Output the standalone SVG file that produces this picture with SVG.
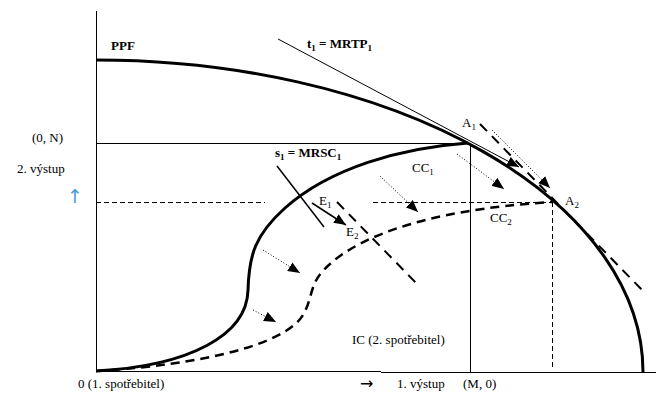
<svg xmlns="http://www.w3.org/2000/svg" width="665" height="394" viewBox="0 0 665 394">
<style>
.t{font-family:'Liberation Serif','Times New Roman',serif;font-size:13px;fill:#000}
.b{font-weight:bold}
.thin{stroke:#000;stroke-width:1;fill:none}
.thick{stroke:#000;stroke-width:3;fill:none}
.dash{stroke:#000;stroke-width:1;fill:none;stroke-dasharray:5,3}
.tdash{stroke:#000;stroke-width:2.5;fill:none;stroke-dasharray:9,6}
.dot{stroke:#000;stroke-width:1;fill:none;stroke-dasharray:1,2}
</style>
<defs>
<marker id="ah" viewBox="0 0 12 10" refX="12" refY="5" markerWidth="12" markerHeight="10" markerUnits="userSpaceOnUse" orient="auto">
<path d="M0,0 L12,5 L0,10 Z" fill="#000"/>
</marker>
</defs>
<rect width="665" height="394" fill="#fff"/>
<g id="axes">
<line class="thin" x1="96.5" y1="11" x2="96.5" y2="372"/>
<line class="thin" x1="96" y1="371.5" x2="381" y2="371.5"/>
<line class="thin" x1="381" y1="372.5" x2="656" y2="372.5"/>
</g>
<g id="ppf">
<path class="thick" d="M96,60 A547,312 0 0 1 643,372"/>
</g>
<g id="cc1">
<path class="thick" d="M96,371 C190,366 247,335 248,290 C249,255 255,235 285,208 C330,168 400,148 468,143"/>
</g>
<g id="cc2">
<path class="tdash" d="M96,371 C200,365 285,345 303,315 C312,300 310,285 322,272 C350,240 420,210 552,202"/>
</g>
<g id="connectors">
<line class="thin" x1="96" y1="143.5" x2="470" y2="143.5"/>
<line class="thin" x1="470.5" y1="143" x2="470.5" y2="372"/>
<line class="dash" x1="96" y1="202.5" x2="265" y2="202.5"/>
<line class="dash" x1="373" y1="202.5" x2="552" y2="202.5"/>
<line class="dash" x1="552.5" y1="202" x2="552.5" y2="368"/>
<line class="thin" x1="278" y1="39" x2="519" y2="167" marker-end="url(#ah)"/>
<line class="thin" x1="277" y1="166" x2="324" y2="227" style="stroke-width:1.5"/>
<line class="thin" x1="312" y1="203" x2="346" y2="225" style="stroke-width:1.5" marker-end="url(#ah)"/>
<line class="tdash" x1="337" y1="202" x2="420" y2="287" style="stroke-width:2;stroke-dasharray:10,7"/>
<line class="tdash" x1="480" y1="124" x2="646" y2="294" style="stroke-width:2;stroke-dasharray:10,7"/>
<line class="dot" x1="253" y1="310" x2="276" y2="322" marker-end="url(#ah)"/>
<line class="dot" x1="263" y1="250" x2="300" y2="273" marker-end="url(#ah)"/>
<line class="dot" x1="380" y1="176" x2="418" y2="212" marker-end="url(#ah)"/>
<line class="dot" x1="457" y1="154" x2="504" y2="189" marker-end="url(#ah)"/>
<line class="dot" x1="492" y1="130" x2="550" y2="188" marker-end="url(#ah)"/>
</g>
<g id="labels" font-family="Liberation Serif, Times New Roman, serif" font-size="13">
<text class="t b" x="111" y="50" font-size="12">PPF</text>
<text class="t b" x="307" y="48">t<tspan dy="3" font-size="9">1</tspan><tspan dy="-3"> = MRTP</tspan><tspan dy="3" font-size="9">1</tspan></text>
<text class="t b" x="275" y="157">s<tspan dy="3" font-size="9">1</tspan><tspan dy="-3"> = MRSC</tspan><tspan dy="3" font-size="9">1</tspan></text>
<text class="t" x="462" y="127">A<tspan dy="3" font-size="9">1</tspan></text>
<text class="t" x="565" y="205">A<tspan dy="3" font-size="9">2</tspan></text>
<text class="t" x="412" y="172">CC<tspan dy="3" font-size="9">1</tspan></text>
<text class="t" x="490" y="222">CC<tspan dy="3" font-size="9">2</tspan></text>
<text class="t" x="319" y="205">E<tspan dy="3" font-size="9">1</tspan></text>
<text class="t" x="346" y="236">E<tspan dy="3" font-size="9">2</tspan></text>
<text class="t" x="32" y="142">(0, N)</text>
<text class="t" x="17" y="173">2. výstup</text>
<text x="67" y="203" font-family="DejaVu Sans, sans-serif" font-size="19" fill="#4a9be0">↑</text>
<text class="t" x="352" y="344">IC (2. spotřebitel)</text>
<text class="t" x="78" y="388">0 (1. spotřebitel)</text>
<text x="360" y="389" font-family="DejaVu Sans, sans-serif" font-size="16" fill="#000">→</text>
<text class="t" x="397" y="388">1. výstup</text>
<text class="t" x="463" y="388">(M, 0)</text>
</g>
</svg>
